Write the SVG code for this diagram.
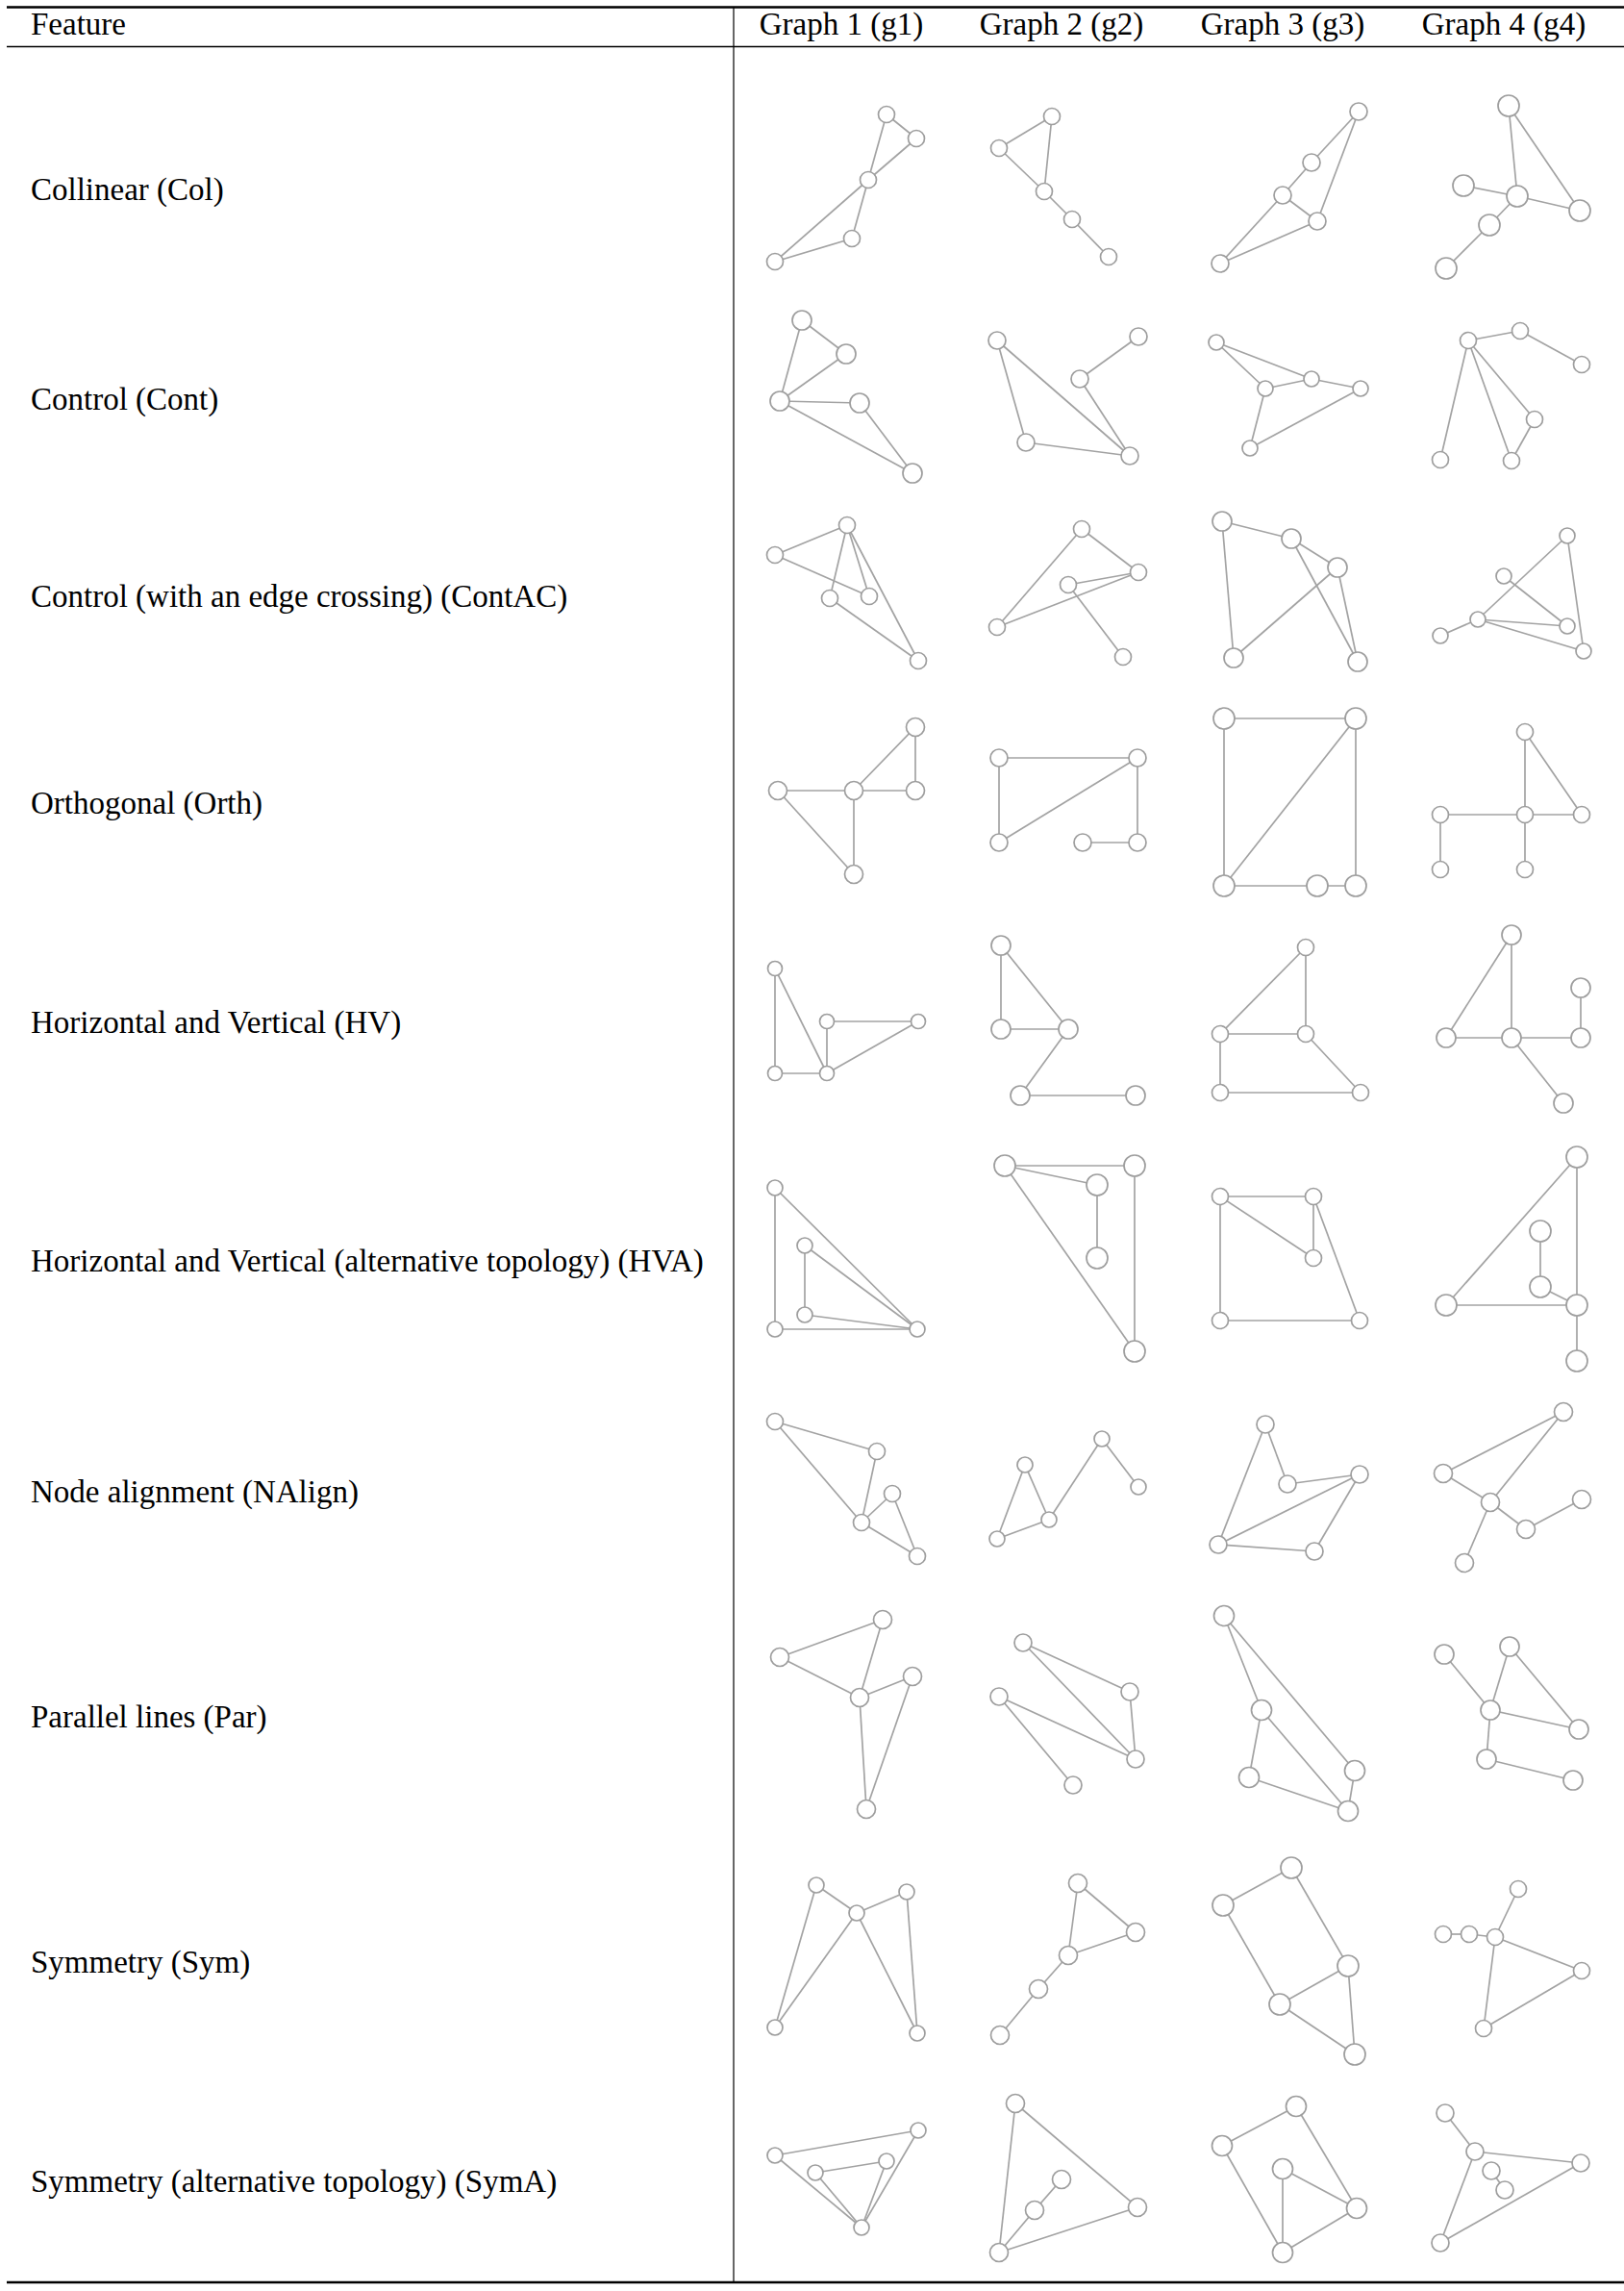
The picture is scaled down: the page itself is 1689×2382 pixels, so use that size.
<svg xmlns="http://www.w3.org/2000/svg" width="1689" height="2382" viewBox="0 0 1689 2382">
<style>
.t{font-family:"Liberation Serif","Times New Roman",serif;font-size:33px;fill:#000}
.h{text-anchor:middle}
.e{stroke:#a3a3a3;stroke-width:1.7;fill:none}
.n circle{fill:#fff;stroke:#9e9e9e;stroke-width:1.7}
.rule{stroke:#000}
</style>
<rect width="1689" height="2382" fill="#fff"/>
<g id="table">
<line class="rule" x1="7" y1="7.5" x2="1689" y2="7.5" stroke-width="2.5"/>
<line class="rule" x1="7" y1="48.5" x2="1689" y2="48.5" stroke-width="1.5"/>
<line class="rule" x1="7" y1="2373" x2="1689" y2="2373" stroke-width="2.5"/>
<line class="rule" x1="763" y1="7" x2="763" y2="2373" stroke-width="1.2"/>
</g>
<g id="header">
<text class="t" x="32" y="36">Feature</text>
<text class="t h" x="875" y="36">Graph 1 (g1)</text>
<text class="t h" x="1104" y="36">Graph 2 (g2)</text>
<text class="t h" x="1334" y="36">Graph 3 (g3)</text>
<text class="t h" x="1564" y="36">Graph 4 (g4)</text>
</g>
<g id="labels">
<text class="t" x="32" y="208">Collinear (Col)</text>
<text class="t" x="32" y="426">Control (Cont)</text>
<text class="t" x="32" y="631">Control (with an edge crossing) (ContAC)</text>
<text class="t" x="32" y="846">Orthogonal (Orth)</text>
<text class="t" x="32" y="1074">Horizontal and Vertical (HV)</text>
<text class="t" x="32" y="1322">Horizontal and Vertical (alternative topology) (HVA)</text>
<text class="t" x="32" y="1562">Node alignment (NAlign)</text>
<text class="t" x="32" y="1796">Parallel lines (Par)</text>
<text class="t" x="32" y="2051">Symmetry (Sym)</text>
<text class="t" x="32" y="2279">Symmetry (alternative topology) (SymA)</text>
</g>
<g id="connectors" class="e">
<!-- Col -->
<line x1="922" y1="119" x2="953" y2="144"/><line x1="922" y1="119" x2="903" y2="187"/><line x1="953" y1="144" x2="903" y2="187"/><line x1="903" y1="187" x2="806" y2="272"/><line x1="903" y1="187" x2="886" y2="248"/><line x1="886" y1="248" x2="806" y2="272"/>
<line x1="1094" y1="121" x2="1039" y2="154"/><line x1="1094" y1="121" x2="1086" y2="199"/><line x1="1039" y1="154" x2="1086" y2="199"/><line x1="1086" y1="199" x2="1115" y2="228"/><line x1="1115" y1="228" x2="1153" y2="267"/>
<line x1="1413" y1="116" x2="1364" y2="169"/><line x1="1413" y1="116" x2="1370" y2="230"/><line x1="1364" y1="169" x2="1334" y2="203"/><line x1="1334" y1="203" x2="1370" y2="230"/><line x1="1334" y1="203" x2="1269" y2="274"/><line x1="1370" y1="230" x2="1269" y2="274"/>
<line x1="1569" y1="110" x2="1578" y2="204"/><line x1="1569" y1="110" x2="1643" y2="219"/><line x1="1522" y1="193" x2="1578" y2="204"/><line x1="1578" y1="204" x2="1643" y2="219"/><line x1="1578" y1="204" x2="1549" y2="234"/><line x1="1549" y1="234" x2="1504" y2="279"/>
<!-- Cont -->
<line x1="834" y1="333" x2="880" y2="368"/><line x1="834" y1="333" x2="811" y2="417"/><line x1="880" y1="368" x2="811" y2="417"/><line x1="811" y1="417" x2="894" y2="419"/><line x1="811" y1="417" x2="949" y2="492"/><line x1="894" y1="419" x2="949" y2="492"/>
<line x1="1037" y1="354" x2="1067" y2="460"/><line x1="1037" y1="354" x2="1175" y2="474"/><line x1="1184" y1="350" x2="1123" y2="394"/><line x1="1123" y1="394" x2="1175" y2="474"/><line x1="1067" y1="460" x2="1175" y2="474"/>
<line x1="1265" y1="356" x2="1364" y2="394"/><line x1="1265" y1="356" x2="1316" y2="404"/><line x1="1316" y1="404" x2="1364" y2="394"/><line x1="1364" y1="394" x2="1415" y2="404"/><line x1="1316" y1="404" x2="1300" y2="466"/><line x1="1415" y1="404" x2="1300" y2="466"/>
<line x1="1527" y1="354" x2="1581" y2="344"/><line x1="1581" y1="344" x2="1645" y2="379"/><line x1="1527" y1="354" x2="1498" y2="478"/><line x1="1527" y1="354" x2="1572" y2="479"/><line x1="1527" y1="354" x2="1596" y2="436"/><line x1="1596" y1="436" x2="1572" y2="479"/>
<!-- ContAC -->
<line x1="881" y1="546" x2="806" y2="577"/><line x1="881" y1="546" x2="863" y2="622"/><line x1="881" y1="546" x2="904" y2="620"/><line x1="881" y1="546" x2="955" y2="687"/><line x1="806" y1="577" x2="904" y2="620"/><line x1="863" y1="622" x2="955" y2="687"/>
<line x1="1125" y1="550" x2="1037" y2="652"/><line x1="1125" y1="550" x2="1184" y2="595"/><line x1="1184" y1="595" x2="1111" y2="608"/><line x1="1184" y1="595" x2="1037" y2="652"/><line x1="1111" y1="608" x2="1168" y2="683"/>
<line x1="1271" y1="542" x2="1343" y2="560"/><line x1="1271" y1="542" x2="1283" y2="684"/><line x1="1343" y1="560" x2="1391" y2="590"/><line x1="1343" y1="560" x2="1412" y2="688"/><line x1="1391" y1="590" x2="1283" y2="684"/><line x1="1391" y1="590" x2="1412" y2="688"/>
<line x1="1630" y1="557" x2="1537" y2="644"/><line x1="1630" y1="557" x2="1647" y2="677"/><line x1="1564" y1="599" x2="1630" y2="651"/><line x1="1537" y1="644" x2="1630" y2="651"/><line x1="1537" y1="644" x2="1647" y2="677"/><line x1="1537" y1="644" x2="1498" y2="661"/>
<!-- Orth -->
<line x1="952" y1="756" x2="952" y2="822"/><line x1="952" y1="756" x2="888" y2="822"/><line x1="888" y1="822" x2="952" y2="822"/><line x1="809" y1="822" x2="888" y2="822"/><line x1="809" y1="822" x2="888" y2="909"/><line x1="888" y1="822" x2="888" y2="909"/>
<line x1="1039" y1="788" x2="1183" y2="788"/><line x1="1039" y1="788" x2="1039" y2="876"/><line x1="1183" y1="788" x2="1039" y2="876"/><line x1="1183" y1="788" x2="1183" y2="876"/><line x1="1126" y1="876" x2="1183" y2="876"/>
<line x1="1273" y1="747" x2="1410" y2="747"/><line x1="1273" y1="747" x2="1273" y2="921"/><line x1="1410" y1="747" x2="1273" y2="921"/><line x1="1410" y1="747" x2="1410" y2="921"/><line x1="1273" y1="921" x2="1370" y2="921"/><line x1="1370" y1="921" x2="1410" y2="921"/>
<line x1="1586" y1="761" x2="1586" y2="847"/><line x1="1586" y1="761" x2="1645" y2="847"/><line x1="1498" y1="847" x2="1586" y2="847"/><line x1="1586" y1="847" x2="1645" y2="847"/><line x1="1498" y1="847" x2="1498" y2="904"/><line x1="1586" y1="847" x2="1586" y2="904"/>
<!-- HV -->
<line x1="806" y1="1007" x2="806" y2="1116"/><line x1="806" y1="1007" x2="860" y2="1116"/><line x1="860" y1="1062" x2="955" y2="1062"/><line x1="860" y1="1062" x2="860" y2="1116"/><line x1="806" y1="1116" x2="860" y2="1116"/><line x1="955" y1="1062" x2="860" y2="1116"/>
<line x1="1041" y1="983" x2="1041" y2="1070"/><line x1="1041" y1="983" x2="1111" y2="1070"/><line x1="1041" y1="1070" x2="1111" y2="1070"/><line x1="1111" y1="1070" x2="1061" y2="1139"/><line x1="1061" y1="1139" x2="1181" y2="1139"/>
<line x1="1358" y1="985" x2="1269" y2="1075"/><line x1="1358" y1="985" x2="1358" y2="1075"/><line x1="1269" y1="1075" x2="1358" y2="1075"/><line x1="1269" y1="1075" x2="1269" y2="1136"/><line x1="1358" y1="1075" x2="1415" y2="1136"/><line x1="1269" y1="1136" x2="1415" y2="1136"/>
<line x1="1572" y1="972" x2="1504" y2="1079"/><line x1="1572" y1="972" x2="1572" y2="1079"/><line x1="1644" y1="1027" x2="1644" y2="1079"/><line x1="1504" y1="1079" x2="1572" y2="1079"/><line x1="1572" y1="1079" x2="1644" y2="1079"/><line x1="1572" y1="1079" x2="1626" y2="1147"/>
<!-- HVA -->
<line x1="806" y1="1235" x2="806" y2="1382"/><line x1="806" y1="1235" x2="954" y2="1382"/><line x1="837" y1="1295" x2="837" y2="1367"/><line x1="837" y1="1295" x2="954" y2="1382"/><line x1="837" y1="1367" x2="954" y2="1382"/><line x1="806" y1="1382" x2="954" y2="1382"/>
<line x1="1045" y1="1212" x2="1180" y2="1212"/><line x1="1045" y1="1212" x2="1141" y2="1232"/><line x1="1141" y1="1232" x2="1141" y2="1308"/><line x1="1045" y1="1212" x2="1180" y2="1405"/><line x1="1180" y1="1212" x2="1180" y2="1405"/>
<line x1="1269" y1="1244" x2="1366" y2="1244"/><line x1="1269" y1="1244" x2="1366" y2="1308"/><line x1="1269" y1="1244" x2="1269" y2="1373"/><line x1="1366" y1="1244" x2="1366" y2="1308"/><line x1="1366" y1="1244" x2="1414" y2="1373"/><line x1="1269" y1="1373" x2="1414" y2="1373"/>
<line x1="1640" y1="1203" x2="1504" y2="1357"/><line x1="1640" y1="1203" x2="1640" y2="1357"/><line x1="1602" y1="1280" x2="1602" y2="1338"/><line x1="1602" y1="1338" x2="1640" y2="1357"/><line x1="1504" y1="1357" x2="1640" y2="1357"/><line x1="1640" y1="1357" x2="1640" y2="1415"/>
<!-- NAlign -->
<line x1="806" y1="1478" x2="912" y2="1509"/><line x1="806" y1="1478" x2="896" y2="1583"/><line x1="912" y1="1509" x2="896" y2="1583"/><line x1="928" y1="1553" x2="896" y2="1583"/><line x1="928" y1="1553" x2="954" y2="1618"/><line x1="896" y1="1583" x2="954" y2="1618"/>
<line x1="1146" y1="1496" x2="1184" y2="1546"/><line x1="1146" y1="1496" x2="1091" y2="1580"/><line x1="1066" y1="1523" x2="1091" y2="1580"/><line x1="1066" y1="1523" x2="1037" y2="1600"/><line x1="1091" y1="1580" x2="1037" y2="1600"/>
<line x1="1316" y1="1481" x2="1339" y2="1543"/><line x1="1316" y1="1481" x2="1267" y2="1606"/><line x1="1339" y1="1543" x2="1414" y2="1533"/><line x1="1414" y1="1533" x2="1267" y2="1606"/><line x1="1414" y1="1533" x2="1367" y2="1613"/><line x1="1267" y1="1606" x2="1367" y2="1613"/>
<line x1="1626" y1="1468" x2="1501" y2="1532"/><line x1="1626" y1="1468" x2="1550" y2="1562"/><line x1="1501" y1="1532" x2="1550" y2="1562"/><line x1="1550" y1="1562" x2="1587" y2="1590"/><line x1="1645" y1="1559" x2="1587" y2="1590"/><line x1="1550" y1="1562" x2="1523" y2="1625"/>
<!-- Par -->
<line x1="918" y1="1684" x2="811" y2="1723"/><line x1="918" y1="1684" x2="894" y2="1765"/><line x1="811" y1="1723" x2="894" y2="1765"/><line x1="894" y1="1765" x2="949" y2="1743"/><line x1="894" y1="1765" x2="901" y2="1881"/><line x1="949" y1="1743" x2="901" y2="1881"/>
<line x1="1064" y1="1708" x2="1175" y2="1759"/><line x1="1064" y1="1708" x2="1181" y2="1829"/><line x1="1175" y1="1759" x2="1181" y2="1829"/><line x1="1039" y1="1764" x2="1181" y2="1829"/><line x1="1039" y1="1764" x2="1116" y2="1856"/>
<line x1="1273" y1="1680" x2="1312" y2="1778"/><line x1="1273" y1="1680" x2="1409" y2="1841"/><line x1="1312" y1="1778" x2="1299" y2="1848"/><line x1="1312" y1="1778" x2="1402" y2="1883"/><line x1="1299" y1="1848" x2="1402" y2="1883"/><line x1="1409" y1="1841" x2="1402" y2="1883"/>
<line x1="1502" y1="1720" x2="1550" y2="1778"/><line x1="1570" y1="1712" x2="1550" y2="1778"/><line x1="1570" y1="1712" x2="1642" y2="1798"/><line x1="1550" y1="1778" x2="1642" y2="1798"/><line x1="1550" y1="1778" x2="1546" y2="1829"/><line x1="1546" y1="1829" x2="1636" y2="1851"/>
<!-- Sym -->
<line x1="849" y1="1960" x2="891" y2="1989"/><line x1="943" y1="1967" x2="891" y2="1989"/><line x1="849" y1="1960" x2="806" y2="2108"/><line x1="891" y1="1989" x2="806" y2="2108"/><line x1="891" y1="1989" x2="954" y2="2114"/><line x1="943" y1="1967" x2="954" y2="2114"/>
<line x1="1121" y1="1958" x2="1181" y2="2009"/><line x1="1121" y1="1958" x2="1111" y2="2033"/><line x1="1181" y1="2009" x2="1111" y2="2033"/><line x1="1111" y1="2033" x2="1080" y2="2068"/><line x1="1080" y1="2068" x2="1040" y2="2116"/>
<line x1="1343" y1="1942" x2="1272" y2="1981"/><line x1="1343" y1="1942" x2="1402" y2="2044"/><line x1="1272" y1="1981" x2="1331" y2="2084"/><line x1="1402" y1="2044" x2="1331" y2="2084"/><line x1="1402" y1="2044" x2="1409" y2="2136"/><line x1="1331" y1="2084" x2="1409" y2="2136"/>
<line x1="1579" y1="1964" x2="1555" y2="2014"/><line x1="1501" y1="2011" x2="1528" y2="2011"/><line x1="1528" y1="2011" x2="1555" y2="2014"/><line x1="1555" y1="2014" x2="1645" y2="2049"/><line x1="1555" y1="2014" x2="1543" y2="2109"/><line x1="1645" y1="2049" x2="1543" y2="2109"/>
<!-- SymA -->
<line x1="955" y1="2215" x2="806" y2="2241"/><line x1="848" y1="2259" x2="922" y2="2247"/><line x1="955" y1="2215" x2="896" y2="2316"/><line x1="806" y1="2241" x2="896" y2="2316"/><line x1="848" y1="2259" x2="896" y2="2316"/><line x1="922" y1="2247" x2="896" y2="2316"/>
<line x1="1056" y1="2187" x2="1183" y2="2295"/><line x1="1056" y1="2187" x2="1039" y2="2342"/><line x1="1104" y1="2266" x2="1076" y2="2298"/><line x1="1076" y1="2298" x2="1039" y2="2342"/><line x1="1183" y1="2295" x2="1039" y2="2342"/>
<line x1="1348" y1="2190" x2="1271" y2="2231"/><line x1="1348" y1="2190" x2="1411" y2="2296"/><line x1="1271" y1="2231" x2="1334" y2="2342"/><line x1="1334" y1="2255" x2="1411" y2="2296"/><line x1="1334" y1="2255" x2="1334" y2="2342"/><line x1="1411" y1="2296" x2="1334" y2="2342"/>
<line x1="1503" y1="2197" x2="1534" y2="2237"/><line x1="1534" y1="2237" x2="1644" y2="2249"/><line x1="1534" y1="2237" x2="1498" y2="2332"/><line x1="1644" y1="2249" x2="1498" y2="2332"/><line x1="1551" y1="2257" x2="1565" y2="2277"/>
</g>
<g id="nodes" class="n">
<g id="col-g1"><g id="col-g1-a"><circle cx="922" cy="119" r="8.5"/></g><g id="col-g1-b"><circle cx="953" cy="144" r="8.5"/></g><g id="col-g1-c"><circle cx="903" cy="187" r="8.5"/></g><g id="col-g1-d"><circle cx="886" cy="248" r="8.5"/></g><g id="col-g1-e"><circle cx="806" cy="272" r="8.5"/></g></g>
<g id="col-g2"><g id="col-g2-a"><circle cx="1094" cy="121" r="8.5"/></g><g id="col-g2-b"><circle cx="1039" cy="154" r="8.5"/></g><g id="col-g2-c"><circle cx="1086" cy="199" r="8.5"/></g><g id="col-g2-d"><circle cx="1115" cy="228" r="8.5"/></g><g id="col-g2-e"><circle cx="1153" cy="267" r="8.5"/></g></g>
<g id="col-g3"><g id="col-g3-a"><circle cx="1413" cy="116" r="9"/></g><g id="col-g3-b"><circle cx="1364" cy="169" r="9"/></g><g id="col-g3-c"><circle cx="1334" cy="203" r="9"/></g><g id="col-g3-d"><circle cx="1370" cy="230" r="9"/></g><g id="col-g3-e"><circle cx="1269" cy="274" r="9"/></g></g>
<g id="col-g4"><g id="col-g4-a"><circle cx="1569" cy="110" r="11"/></g><g id="col-g4-b"><circle cx="1522" cy="193" r="11"/></g><g id="col-g4-c"><circle cx="1578" cy="204" r="11"/></g><g id="col-g4-d"><circle cx="1643" cy="219" r="11"/></g><g id="col-g4-e"><circle cx="1549" cy="234" r="11"/></g><g id="col-g4-f"><circle cx="1504" cy="279" r="11"/></g></g>

<g id="cont-g1"><g id="cont-g1-a"><circle cx="834" cy="333" r="10"/></g><g id="cont-g1-b"><circle cx="880" cy="368" r="10"/></g><g id="cont-g1-c"><circle cx="811" cy="417" r="10"/></g><g id="cont-g1-d"><circle cx="894" cy="419" r="10"/></g><g id="cont-g1-e"><circle cx="949" cy="492" r="10"/></g></g>
<g id="cont-g2"><g id="cont-g2-a"><circle cx="1037" cy="354" r="9"/></g><g id="cont-g2-b"><circle cx="1184" cy="350" r="9"/></g><g id="cont-g2-c"><circle cx="1123" cy="394" r="9"/></g><g id="cont-g2-d"><circle cx="1067" cy="460" r="9"/></g><g id="cont-g2-e"><circle cx="1175" cy="474" r="9"/></g></g>
<g id="cont-g3"><g id="cont-g3-a"><circle cx="1265" cy="356" r="8"/></g><g id="cont-g3-b"><circle cx="1364" cy="394" r="8"/></g><g id="cont-g3-c"><circle cx="1316" cy="404" r="8"/></g><g id="cont-g3-d"><circle cx="1415" cy="404" r="8"/></g><g id="cont-g3-e"><circle cx="1300" cy="466" r="8"/></g></g>
<g id="cont-g4"><g id="cont-g4-a"><circle cx="1527" cy="354" r="8.5"/></g><g id="cont-g4-b"><circle cx="1581" cy="344" r="8.5"/></g><g id="cont-g4-c"><circle cx="1645" cy="379" r="8.5"/></g><g id="cont-g4-d"><circle cx="1596" cy="436" r="8.5"/></g><g id="cont-g4-e"><circle cx="1498" cy="478" r="8.5"/></g><g id="cont-g4-f"><circle cx="1572" cy="479" r="8.5"/></g></g>

<g id="contac-g1"><g id="contac-g1-a"><circle cx="881" cy="546" r="8.5"/></g><g id="contac-g1-b"><circle cx="806" cy="577" r="8.5"/></g><g id="contac-g1-c"><circle cx="863" cy="622" r="8.5"/></g><g id="contac-g1-d"><circle cx="904" cy="620" r="8.5"/></g><g id="contac-g1-e"><circle cx="955" cy="687" r="8.5"/></g></g>
<g id="contac-g2"><g id="contac-g2-a"><circle cx="1125" cy="550" r="8.5"/></g><g id="contac-g2-b"><circle cx="1184" cy="595" r="8.5"/></g><g id="contac-g2-c"><circle cx="1111" cy="608" r="8.5"/></g><g id="contac-g2-d"><circle cx="1037" cy="652" r="8.5"/></g><g id="contac-g2-e"><circle cx="1168" cy="683" r="8.5"/></g></g>
<g id="contac-g3"><g id="contac-g3-a"><circle cx="1271" cy="542" r="10"/></g><g id="contac-g3-b"><circle cx="1343" cy="560" r="10"/></g><g id="contac-g3-c"><circle cx="1391" cy="590" r="10"/></g><g id="contac-g3-d"><circle cx="1283" cy="684" r="10"/></g><g id="contac-g3-e"><circle cx="1412" cy="688" r="10"/></g></g>
<g id="contac-g4"><g id="contac-g4-a"><circle cx="1630" cy="557" r="8"/></g><g id="contac-g4-b"><circle cx="1564" cy="599" r="8"/></g><g id="contac-g4-c"><circle cx="1537" cy="644" r="8"/></g><g id="contac-g4-d"><circle cx="1630" cy="651" r="8"/></g><g id="contac-g4-e"><circle cx="1498" cy="661" r="8"/></g><g id="contac-g4-f"><circle cx="1647" cy="677" r="8"/></g></g>

<g id="orth-g1"><g id="orth-g1-a"><circle cx="952" cy="756" r="9.5"/></g><g id="orth-g1-b"><circle cx="952" cy="822" r="9.5"/></g><g id="orth-g1-c"><circle cx="888" cy="822" r="9.5"/></g><g id="orth-g1-d"><circle cx="809" cy="822" r="9.5"/></g><g id="orth-g1-e"><circle cx="888" cy="909" r="9.5"/></g></g>
<g id="orth-g2"><g id="orth-g2-a"><circle cx="1039" cy="788" r="9"/></g><g id="orth-g2-b"><circle cx="1183" cy="788" r="9"/></g><g id="orth-g2-c"><circle cx="1039" cy="876" r="9"/></g><g id="orth-g2-d"><circle cx="1126" cy="876" r="9"/></g><g id="orth-g2-e"><circle cx="1183" cy="876" r="9"/></g></g>
<g id="orth-g3"><g id="orth-g3-a"><circle cx="1273" cy="747" r="11"/></g><g id="orth-g3-b"><circle cx="1410" cy="747" r="11"/></g><g id="orth-g3-c"><circle cx="1273" cy="921" r="11"/></g><g id="orth-g3-d"><circle cx="1370" cy="921" r="11"/></g><g id="orth-g3-e"><circle cx="1410" cy="921" r="11"/></g></g>
<g id="orth-g4"><g id="orth-g4-a"><circle cx="1586" cy="761" r="8.5"/></g><g id="orth-g4-b"><circle cx="1498" cy="847" r="8.5"/></g><g id="orth-g4-c"><circle cx="1586" cy="847" r="8.5"/></g><g id="orth-g4-d"><circle cx="1645" cy="847" r="8.5"/></g><g id="orth-g4-e"><circle cx="1498" cy="904" r="8.5"/></g><g id="orth-g4-f"><circle cx="1586" cy="904" r="8.5"/></g></g>

<g id="hv-g1"><g id="hv-g1-a"><circle cx="806" cy="1007" r="7.5"/></g><g id="hv-g1-b"><circle cx="860" cy="1062" r="7.5"/></g><g id="hv-g1-c"><circle cx="955" cy="1062" r="7.5"/></g><g id="hv-g1-d"><circle cx="806" cy="1116" r="7.5"/></g><g id="hv-g1-e"><circle cx="860" cy="1116" r="7.5"/></g></g>
<g id="hv-g2"><g id="hv-g2-a"><circle cx="1041" cy="983" r="10"/></g><g id="hv-g2-b"><circle cx="1041" cy="1070" r="10"/></g><g id="hv-g2-c"><circle cx="1111" cy="1070" r="10"/></g><g id="hv-g2-d"><circle cx="1061" cy="1139" r="10"/></g><g id="hv-g2-e"><circle cx="1181" cy="1139" r="10"/></g></g>
<g id="hv-g3"><g id="hv-g3-a"><circle cx="1358" cy="985" r="8.5"/></g><g id="hv-g3-b"><circle cx="1269" cy="1075" r="8.5"/></g><g id="hv-g3-c"><circle cx="1358" cy="1075" r="8.5"/></g><g id="hv-g3-d"><circle cx="1269" cy="1136" r="8.5"/></g><g id="hv-g3-e"><circle cx="1415" cy="1136" r="8.5"/></g></g>
<g id="hv-g4"><g id="hv-g4-a"><circle cx="1572" cy="972" r="10"/></g><g id="hv-g4-b"><circle cx="1644" cy="1027" r="10"/></g><g id="hv-g4-c"><circle cx="1504" cy="1079" r="10"/></g><g id="hv-g4-d"><circle cx="1572" cy="1079" r="10"/></g><g id="hv-g4-e"><circle cx="1644" cy="1079" r="10"/></g><g id="hv-g4-f"><circle cx="1626" cy="1147" r="10"/></g></g>

<g id="hva-g1"><g id="hva-g1-a"><circle cx="806" cy="1235" r="8"/></g><g id="hva-g1-b"><circle cx="837" cy="1295" r="8"/></g><g id="hva-g1-c"><circle cx="837" cy="1367" r="8"/></g><g id="hva-g1-d"><circle cx="806" cy="1382" r="8"/></g><g id="hva-g1-e"><circle cx="954" cy="1382" r="8"/></g></g>
<g id="hva-g2"><g id="hva-g2-a"><circle cx="1045" cy="1212" r="11"/></g><g id="hva-g2-b"><circle cx="1180" cy="1212" r="11"/></g><g id="hva-g2-c"><circle cx="1141" cy="1232" r="11"/></g><g id="hva-g2-d"><circle cx="1141" cy="1308" r="11"/></g><g id="hva-g2-e"><circle cx="1180" cy="1405" r="11"/></g></g>
<g id="hva-g3"><g id="hva-g3-a"><circle cx="1269" cy="1244" r="8.5"/></g><g id="hva-g3-b"><circle cx="1366" cy="1244" r="8.5"/></g><g id="hva-g3-c"><circle cx="1366" cy="1308" r="8.5"/></g><g id="hva-g3-d"><circle cx="1269" cy="1373" r="8.5"/></g><g id="hva-g3-e"><circle cx="1414" cy="1373" r="8.5"/></g></g>
<g id="hva-g4"><g id="hva-g4-a"><circle cx="1640" cy="1203" r="11"/></g><g id="hva-g4-b"><circle cx="1602" cy="1280" r="11"/></g><g id="hva-g4-c"><circle cx="1602" cy="1338" r="11"/></g><g id="hva-g4-d"><circle cx="1504" cy="1357" r="11"/></g><g id="hva-g4-e"><circle cx="1640" cy="1357" r="11"/></g><g id="hva-g4-f"><circle cx="1640" cy="1415" r="11"/></g></g>

<g id="nalign-g1"><g id="nalign-g1-a"><circle cx="806" cy="1478" r="8.5"/></g><g id="nalign-g1-b"><circle cx="912" cy="1509" r="8.5"/></g><g id="nalign-g1-c"><circle cx="928" cy="1553" r="8.5"/></g><g id="nalign-g1-d"><circle cx="896" cy="1583" r="8.5"/></g><g id="nalign-g1-e"><circle cx="954" cy="1618" r="8.5"/></g></g>
<g id="nalign-g2"><g id="nalign-g2-a"><circle cx="1146" cy="1496" r="8"/></g><g id="nalign-g2-b"><circle cx="1066" cy="1523" r="8"/></g><g id="nalign-g2-c"><circle cx="1184" cy="1546" r="8"/></g><g id="nalign-g2-d"><circle cx="1091" cy="1580" r="8"/></g><g id="nalign-g2-e"><circle cx="1037" cy="1600" r="8"/></g></g>
<g id="nalign-g3"><g id="nalign-g3-a"><circle cx="1316" cy="1481" r="9"/></g><g id="nalign-g3-b"><circle cx="1339" cy="1543" r="9"/></g><g id="nalign-g3-c"><circle cx="1414" cy="1533" r="9"/></g><g id="nalign-g3-d"><circle cx="1267" cy="1606" r="9"/></g><g id="nalign-g3-e"><circle cx="1367" cy="1613" r="9"/></g></g>
<g id="nalign-g4"><g id="nalign-g4-a"><circle cx="1626" cy="1468" r="9.5"/></g><g id="nalign-g4-b"><circle cx="1501" cy="1532" r="9.5"/></g><g id="nalign-g4-c"><circle cx="1550" cy="1562" r="9.5"/></g><g id="nalign-g4-d"><circle cx="1645" cy="1559" r="9.5"/></g><g id="nalign-g4-e"><circle cx="1587" cy="1590" r="9.5"/></g><g id="nalign-g4-f"><circle cx="1523" cy="1625" r="9.5"/></g></g>

<g id="par-g1"><g id="par-g1-a"><circle cx="918" cy="1684" r="9.5"/></g><g id="par-g1-b"><circle cx="811" cy="1723" r="9.5"/></g><g id="par-g1-c"><circle cx="894" cy="1765" r="9.5"/></g><g id="par-g1-d"><circle cx="949" cy="1743" r="9.5"/></g><g id="par-g1-e"><circle cx="901" cy="1881" r="9.5"/></g></g>
<g id="par-g2"><g id="par-g2-a"><circle cx="1064" cy="1708" r="9"/></g><g id="par-g2-b"><circle cx="1175" cy="1759" r="9"/></g><g id="par-g2-c"><circle cx="1039" cy="1764" r="9"/></g><g id="par-g2-d"><circle cx="1181" cy="1829" r="9"/></g><g id="par-g2-e"><circle cx="1116" cy="1856" r="9"/></g></g>
<g id="par-g3"><g id="par-g3-a"><circle cx="1273" cy="1680" r="10.5"/></g><g id="par-g3-b"><circle cx="1312" cy="1778" r="10.5"/></g><g id="par-g3-c"><circle cx="1409" cy="1841" r="10.5"/></g><g id="par-g3-d"><circle cx="1299" cy="1848" r="10.5"/></g><g id="par-g3-e"><circle cx="1402" cy="1883" r="10.5"/></g></g>
<g id="par-g4"><g id="par-g4-a"><circle cx="1502" cy="1720" r="10"/></g><g id="par-g4-b"><circle cx="1570" cy="1712" r="10"/></g><g id="par-g4-c"><circle cx="1550" cy="1778" r="10"/></g><g id="par-g4-d"><circle cx="1642" cy="1798" r="10"/></g><g id="par-g4-e"><circle cx="1546" cy="1829" r="10"/></g><g id="par-g4-f"><circle cx="1636" cy="1851" r="10"/></g></g>

<g id="sym-g1"><g id="sym-g1-a"><circle cx="849" cy="1960" r="8"/></g><g id="sym-g1-b"><circle cx="943" cy="1967" r="8"/></g><g id="sym-g1-c"><circle cx="891" cy="1989" r="8"/></g><g id="sym-g1-d"><circle cx="806" cy="2108" r="8"/></g><g id="sym-g1-e"><circle cx="954" cy="2114" r="8"/></g></g>
<g id="sym-g2"><g id="sym-g2-a"><circle cx="1121" cy="1958" r="9.5"/></g><g id="sym-g2-b"><circle cx="1181" cy="2009" r="9.5"/></g><g id="sym-g2-c"><circle cx="1111" cy="2033" r="9.5"/></g><g id="sym-g2-d"><circle cx="1080" cy="2068" r="9.5"/></g><g id="sym-g2-e"><circle cx="1040" cy="2116" r="9.5"/></g></g>
<g id="sym-g3"><g id="sym-g3-a"><circle cx="1343" cy="1942" r="11"/></g><g id="sym-g3-b"><circle cx="1272" cy="1981" r="11"/></g><g id="sym-g3-c"><circle cx="1402" cy="2044" r="11"/></g><g id="sym-g3-d"><circle cx="1331" cy="2084" r="11"/></g><g id="sym-g3-e"><circle cx="1409" cy="2136" r="11"/></g></g>
<g id="sym-g4"><g id="sym-g4-a"><circle cx="1579" cy="1964" r="8.5"/></g><g id="sym-g4-b"><circle cx="1501" cy="2011" r="8.5"/></g><g id="sym-g4-c"><circle cx="1528" cy="2011" r="8.5"/></g><g id="sym-g4-d"><circle cx="1555" cy="2014" r="8.5"/></g><g id="sym-g4-e"><circle cx="1645" cy="2049" r="8.5"/></g><g id="sym-g4-f"><circle cx="1543" cy="2109" r="8.5"/></g></g>

<g id="syma-g1"><g id="syma-g1-a"><circle cx="955" cy="2215" r="8"/></g><g id="syma-g1-b"><circle cx="806" cy="2241" r="8"/></g><g id="syma-g1-c"><circle cx="922" cy="2247" r="8"/></g><g id="syma-g1-d"><circle cx="848" cy="2259" r="8"/></g><g id="syma-g1-e"><circle cx="896" cy="2316" r="8"/></g></g>
<g id="syma-g2"><g id="syma-g2-a"><circle cx="1056" cy="2187" r="9.5"/></g><g id="syma-g2-b"><circle cx="1104" cy="2266" r="9.5"/></g><g id="syma-g2-c"><circle cx="1076" cy="2298" r="9.5"/></g><g id="syma-g2-d"><circle cx="1183" cy="2295" r="9.5"/></g><g id="syma-g2-e"><circle cx="1039" cy="2342" r="9.5"/></g></g>
<g id="syma-g3"><g id="syma-g3-a"><circle cx="1348" cy="2190" r="10.5"/></g><g id="syma-g3-b"><circle cx="1271" cy="2231" r="10.5"/></g><g id="syma-g3-c"><circle cx="1334" cy="2255" r="10.5"/></g><g id="syma-g3-d"><circle cx="1411" cy="2296" r="10.5"/></g><g id="syma-g3-e"><circle cx="1334" cy="2342" r="10.5"/></g></g>
<g id="syma-g4"><g id="syma-g4-a"><circle cx="1503" cy="2197" r="9"/></g><g id="syma-g4-b"><circle cx="1534" cy="2237" r="9"/></g><g id="syma-g4-c"><circle cx="1644" cy="2249" r="9"/></g><g id="syma-g4-d"><circle cx="1551" cy="2257" r="9"/></g><g id="syma-g4-e"><circle cx="1565" cy="2277" r="9"/></g><g id="syma-g4-f"><circle cx="1498" cy="2332" r="9"/></g></g>
</g>
</svg>
